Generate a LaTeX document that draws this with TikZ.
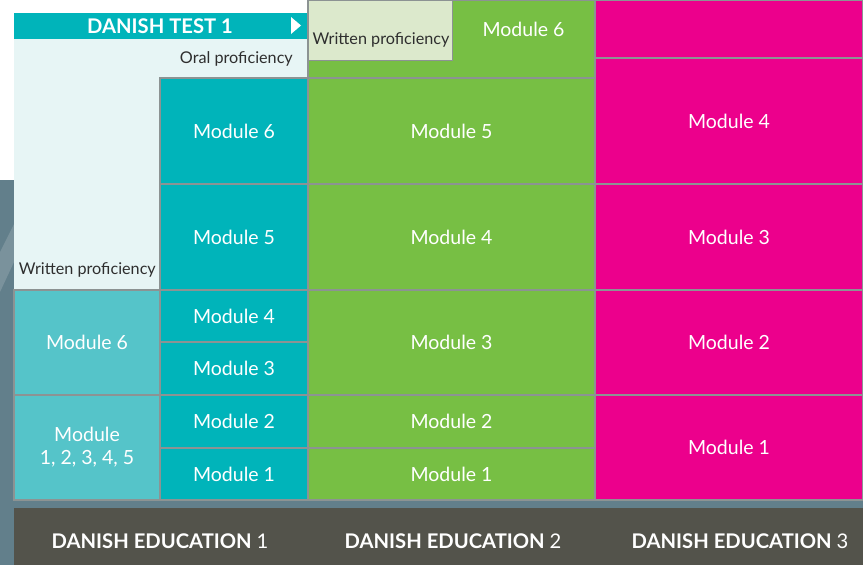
\documentclass[tikz,border=0pt]{standalone}
\usepackage{fontspec}
\setmainfont{Lato}

\definecolor{tealc}{HTML}{00B4BA}
\definecolor{lightteal}{HTML}{55C4C9}
\definecolor{greenc}{HTML}{77BF44}
\definecolor{lightgreen}{HTML}{DCE9CC}
\definecolor{magentac}{HTML}{EC008C}
\definecolor{pale}{HTML}{E7F5F5}
\definecolor{gridgray}{HTML}{8C9393}
\definecolor{bardark}{HTML}{53534B}
\definecolor{photo}{HTML}{627F8B}
\definecolor{photolight}{HTML}{7A929C}
\definecolor{notegray}{HTML}{2E2E2E}

\tikzset{
	cell/.style={draw=gridgray, line width=1.3pt, inner sep=0pt, outer sep=0pt, text=white, align=center, font=\fontsize{19.5}{23}\selectfont},
	modtext/.style={text=white, inner sep=0pt, font=\fontsize{19.5}{23}\selectfont},
	note/.style={text=notegray, inner sep=0pt, font=\fontsize{16.2}{18}\selectfont},
	caption/.style={text=white, inner sep=0pt, font=\bfseries\fontsize{20.2}{24}\selectfont}
}

\begin{document}
\begin{tikzpicture}[x=1pt, y=-1pt]
	\useasboundingbox (0,0) rectangle (863,565);
	\fill[white] (0,0) rectangle (863,565);
	% background photo strip
	\fill[photo] (0,180) rectangle (14,565);
	\fill[photo] (0,500) rectangle (863,508);
	\fill[photolight] (0,252) -- (14,224) -- (14,262) -- (0,292) -- cycle;
	\fill[pale] (14,39) rectangle (308,290);

	% danish test bar
	\fill[tealc] (14,13) rectangle (307,39);
	\node[caption] (test) at (160,26) {DANISH TEST 1};
	\fill[white] (291,17) -- (301,25.5) -- (291,34) -- cycle;
	\node[note, anchor=east] (oral) at (293,59) {Oral proficiency};
	\node[note, anchor=east] (writ1) at (156,270) {Written proficiency};

	% danish education 1
	\node[cell, fill=lightteal, minimum width=146, minimum height=105] (e1m6) at (87,342.5) {Module 6};
	\node[cell, fill=lightteal, minimum width=146, minimum height=105] (e1m1) at (87,447.5) {Module\\1, 2, 3, 4, 5};
	\node[cell, fill=tealc, minimum width=148, minimum height=106] (t6) at (234,131) {Module 6};
	\node[cell, fill=tealc, minimum width=148, minimum height=106] (t5) at (234,237) {Module 5};
	\node[cell, fill=tealc, minimum width=148, minimum height=52] (t4) at (234,316) {Module 4};
	\node[cell, fill=tealc, minimum width=148, minimum height=53] (t3) at (234,368.5) {Module 3};
	\node[cell, fill=tealc, minimum width=148, minimum height=53] (t2) at (234,421.5) {Module 2};
	\node[cell, fill=tealc, minimum width=148, minimum height=52] (t1) at (234,474) {Module 1};

	% danish education 2
	\node[cell, fill=greenc, minimum width=287, minimum height=78] (g6) at (451.5,39) {};
	\node[draw=gridgray, line width=1pt, fill=lightgreen, minimum width=144, minimum height=60, inner sep=0pt, outer sep=0pt, anchor=north west] (wbox) at (308,0) {};
	\node[note] (writ2) at (381,40) {Written proficiency};
	\node[modtext] (g6lbl) at (523.5,29) {Module 6};
	\node[cell, fill=greenc, minimum width=287, minimum height=106] (g5) at (451.5,131) {Module 5};
	\node[cell, fill=greenc, minimum width=287, minimum height=106] (g4) at (451.5,237) {Module 4};
	\node[cell, fill=greenc, minimum width=287, minimum height=105] (g3) at (451.5,342.5) {Module 3};
	\node[cell, fill=greenc, minimum width=287, minimum height=53] (g2) at (451.5,421.5) {Module 2};
	\node[cell, fill=greenc, minimum width=287, minimum height=52] (g1) at (451.5,474) {Module 1};

	% danish education 3
	\node[cell, fill=magentac, minimum width=268, minimum height=58] (m0) at (729,29) {};
	\node[cell, fill=magentac, minimum width=268, minimum height=126] (m4) at (729,121) {Module 4};
	\node[cell, fill=magentac, minimum width=268, minimum height=106] (m3) at (729,237) {Module 3};
	\node[cell, fill=magentac, minimum width=268, minimum height=105] (m2) at (729,342.5) {Module 2};
	\node[cell, fill=magentac, minimum width=268, minimum height=105] (m1) at (729,447.5) {Module 1};

	% bottom bar
	\fill[bardark] (14,508) rectangle (863,565);
	\node[caption] (ed1) at (160,541) {DANISH EDUCATION \mdseries 1};
	\node[caption] (ed2) at (453,541) {DANISH EDUCATION \mdseries 2};
	\node[caption] (ed3) at (740,541) {DANISH EDUCATION \mdseries 3};
\end{tikzpicture}
\end{document}
